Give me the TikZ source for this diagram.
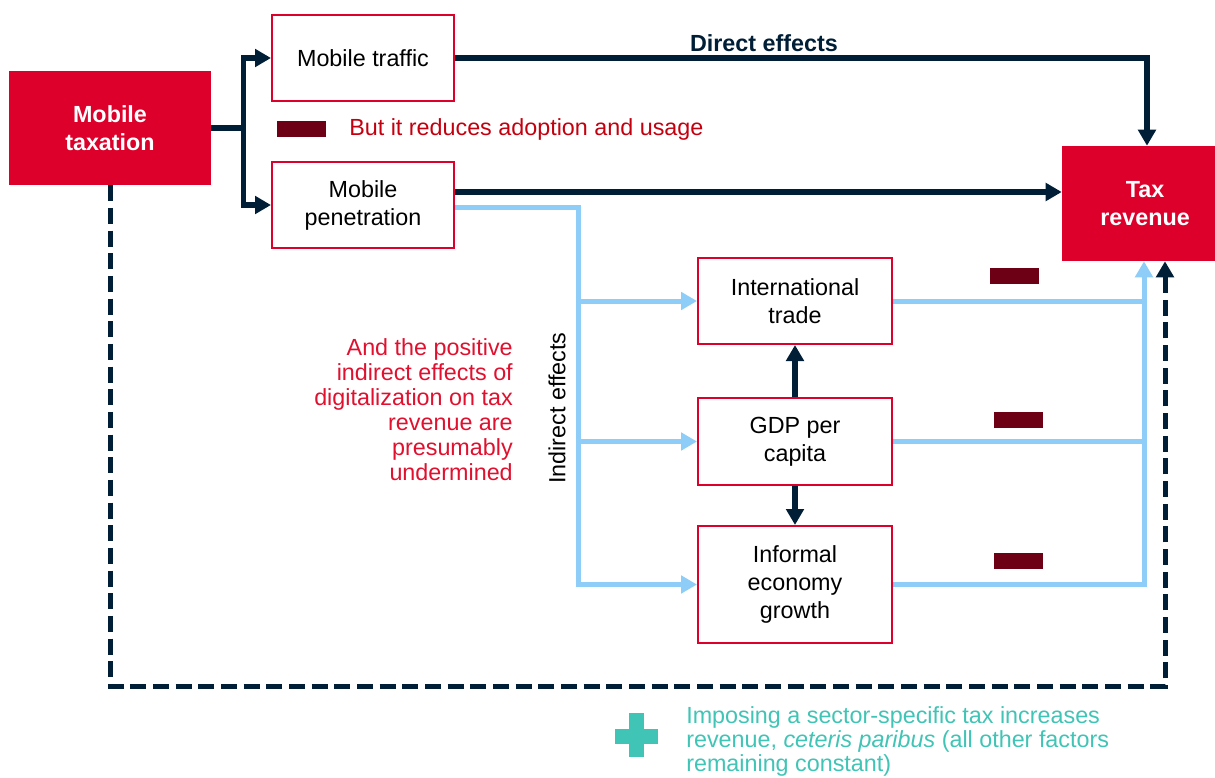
\documentclass[tikz,border=0pt]{standalone}
\usepackage{fontspec}
\setmainfont{Liberation Sans}
\usetikzlibrary{arrows.meta,calc}
\definecolor{taxred}{HTML}{DC002A}
\definecolor{navy}{HTML}{001E36}
\definecolor{skyblue}{HTML}{8ECDF8}
\definecolor{barred}{HTML}{6E0016}
\definecolor{notered}{HTML}{C4000F}
\definecolor{parared}{HTML}{E0102E}
\definecolor{plusteal}{HTML}{40C4B5}
\begin{document}
\begin{tikzpicture}[x=0.75pt,y=-0.75pt,
  font=\fontsize{17.5}{21}\selectfont,
  box/.style={draw=taxred,line width=1.5pt,fill=white,align=center,inner sep=0pt,
    minimum width=145.5pt,minimum height=64.5pt},
  redbox/.style={fill=taxred,text=white,font=\fontsize{17.5}{21}\selectfont\bfseries,
    align=center,inner sep=0pt},
  cut/.style={fill=barred,inner sep=0pt,minimum width=36.75pt,minimum height=12pt},
  dir/.style={navy,line width=4pt,-{Triangle[length=12pt,width=13pt]}},
  ind/.style={skyblue,line width=3.75pt,-{Triangle[length=12pt,width=13pt]}},
  loop/.style={navy,line width=3.75pt,dash pattern=on 12pt off 5pt,-{Triangle[length=12pt,width=13pt]}}]
\useasboundingbox (0,0) rectangle (1215,778);
% main boxes
\node[redbox,minimum width=151.5pt,minimum height=85.5pt] (tax) at (110,128) {Mobile\\taxation};
\node[redbox,minimum width=124.5pt,minimum height=86.25pt] (rev) at (1145,203.5) {Tax\\revenue};
\node[box,minimum width=136.5pt] (traffic) at (363,58) {Mobile traffic};
\node[box,minimum width=136.5pt] (pen) at (363,205) {Mobile\\penetration};
\node[box] (trade) at (795,301) {International\\trade};
\node[box,minimum height=65.25pt] (gdp) at (795,441.5) {GDP per\\capita};
\node[box,minimum height=87.75pt] (informal) at (795,584.5) {Informal\\economy\\growth};
% labels
\node[text=navy,font=\fontsize{17.5}{21}\selectfont\bfseries] (direct) at (764,43) {Direct effects};
\node[rotate=90] (indirect) at (557,408) {Indirect effects};
\node[cut] (key) at (301.5,129) {};
\node[text=notered,anchor=west,inner sep=0pt] (keytext) at (349,129) {But it reduces adoption and usage};
\node[text=parared,align=right,anchor=east,inner sep=0pt,
  font=\fontsize{17.5}{18.75}\selectfont] (undermined) at (513,409.5)
  {And the positive\\indirect effects of\\digitalization on tax\\revenue are\\presumably\\undermined};
\node[cut] (cut1) at (1014,276) {};
\node[cut] (cut2) at (1018,420) {};
\node[cut] (cut3) at (1018,561) {};
% direct effects
\coordinate (fork) at ($(tax.east)+(32,0)$);
\draw[dir] (tax.east) -- (fork) |- (traffic.west);
\draw[dir] (fork) |- (pen.west);
\draw[dir] (traffic.east) -| ($(rev.north)+(2,0)$);
\draw[dir] ([yshift=9.75pt]pen.east) -- ([yshift=9.75pt]pen.east -| rev.west);
\draw[dir] (gdp.north) -- (trade.south);
\draw[dir] (gdp.south) -- (informal.north);
% indirect effects
\coordinate (ibus) at ($(pen.east)+(123,2)$);
\coordinate (obus) at ($(rev.south)+(-1,0)$);
\draw[ind] ([yshift=-1.5pt]pen.east) -- (ibus) |- (informal.west);
\draw[ind] (ibus |- trade.west) -- (trade.west);
\draw[ind] (ibus |- gdp.west) -- (gdp.west);
\draw[ind] (informal.east) -| (obus);
\draw[skyblue,line width=3.75pt] (trade.east) -- (trade.east -| obus);
\draw[skyblue,line width=3.75pt] (gdp.east) -- (gdp.east -| obus);
% tax loop
\coordinate (dl) at ($(rev.south)+(20,0)$);
\draw[loop] (tax.south) |- ($(dl)+(0,425)$) -- (dl);
% plus note
\fill[plusteal] (615,729) rectangle (658,744);
\fill[plusteal] (629,713) rectangle (644,757);
\node[text=plusteal,align=left,anchor=north west,inner sep=0pt,
  font=\fontsize{17.5}{18}\selectfont] (note) at (686,706)
  {Imposing a sector-specific tax increases\\revenue, \textit{ceteris paribus} (all other factors\\remaining constant)};
\end{tikzpicture}
\end{document}
